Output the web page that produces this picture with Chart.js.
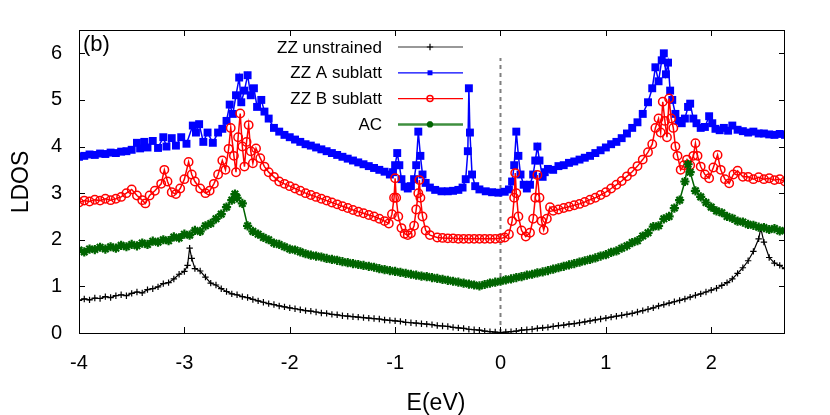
<!DOCTYPE html>
<html>
<head>
<meta charset="utf-8">
<script src="https://cdn.jsdelivr.net/npm/chart.js@4.4.0/dist/chart.umd.min.js"></script>
<style>
  html, body { margin: 0; padding: 0; background: #fff; }
  #ldos { display: block; }
</style>
</head>
<body>
<canvas id="ldos" width="830" height="415"></canvas>
<script>
// LDOS curves (energy in eV, LDOS in arbitrary units)
const blackE = [
  -4.00, -3.95, -3.90, -3.85, -3.80, -3.75, -3.70, -3.65, -3.60, -3.55,
  -3.50, -3.45, -3.40, -3.35, -3.30, -3.25, -3.20, -3.15, -3.10, -3.05,
  -3.00, -2.97, -2.95, -2.93, -2.90, -2.85, -2.80, -2.75, -2.70, -2.65,
  -2.60, -2.55, -2.50, -2.45, -2.40, -2.35, -2.30, -2.25, -2.20, -2.15,
  -2.10, -2.05, -2.00, -1.95, -1.90, -1.85, -1.80, -1.75, -1.70, -1.65,
  -1.60, -1.55, -1.50, -1.45, -1.40, -1.35, -1.30, -1.25, -1.20, -1.15,
  -1.10, -1.05, -1.00, -0.95, -0.90, -0.85, -0.80, -0.75, -0.70, -0.65,
  -0.60, -0.55, -0.50, -0.45, -0.40, -0.35, -0.30, -0.25, -0.20, -0.15,
  -0.10, -0.05, 0.00, 0.05, 0.10, 0.15, 0.20, 0.25, 0.30, 0.35,
  0.40, 0.45, 0.50, 0.55, 0.60, 0.65, 0.70, 0.75, 0.80, 0.85,
  0.90, 0.95, 1.00, 1.05, 1.10, 1.15, 1.20, 1.25, 1.30, 1.35,
  1.40, 1.45, 1.50, 1.55, 1.60, 1.65, 1.70, 1.75, 1.80, 1.85,
  1.90, 1.95, 2.00, 2.05, 2.10, 2.15, 2.20, 2.25, 2.30, 2.35,
  2.40, 2.45, 2.47, 2.50, 2.55, 2.60, 2.65, 2.70
];
const blackLdos = [
  0.70, 0.73, 0.71, 0.75, 0.74, 0.78, 0.76, 0.80, 0.82, 0.80,
  0.85, 0.88, 0.86, 0.93, 0.95, 0.99, 1.06, 1.08, 1.16, 1.26,
  1.32, 1.45, 1.82, 1.60, 1.38, 1.33, 1.20, 1.07, 1.03, 0.95,
  0.89, 0.84, 0.82, 0.78, 0.76, 0.72, 0.69, 0.66, 0.63, 0.61,
  0.58, 0.56, 0.54, 0.52, 0.50, 0.48, 0.47, 0.45, 0.43, 0.42,
  0.40, 0.39, 0.37, 0.36, 0.35, 0.34, 0.33, 0.32, 0.31, 0.30,
  0.28, 0.27, 0.26, 0.25, 0.23, 0.22, 0.21, 0.20, 0.19, 0.18,
  0.16, 0.15, 0.14, 0.12, 0.11, 0.10, 0.08, 0.07, 0.06, 0.04,
  0.03, 0.02, 0.01, 0.02, 0.03, 0.04, 0.06, 0.07, 0.08, 0.10,
  0.11, 0.12, 0.14, 0.16, 0.17, 0.19, 0.20, 0.22, 0.24, 0.26,
  0.28, 0.30, 0.32, 0.34, 0.36, 0.38, 0.40, 0.42, 0.45, 0.48,
  0.51, 0.54, 0.58, 0.61, 0.64, 0.67, 0.70, 0.73, 0.77, 0.81,
  0.84, 0.88, 0.92, 0.96, 1.02, 1.08, 1.16, 1.28, 1.40, 1.55,
  1.75, 2.02, 2.25, 1.95, 1.62, 1.50, 1.45, 1.38
];

const blueE = [
  -4.00, -3.95, -3.90, -3.85, -3.80, -3.75, -3.70, -3.65, -3.60, -3.55,
  -3.50, -3.45, -3.42, -3.38, -3.35, -3.30, -3.25, -3.20, -3.17, -3.12,
  -3.08, -3.03, -2.98, -2.92, -2.89, -2.86, -2.82, -2.78, -2.73, -2.68,
  -2.64, -2.60, -2.57, -2.54, -2.51, -2.48, -2.46, -2.43, -2.40, -2.37,
  -2.34, -2.31, -2.27, -2.24, -2.20, -2.15, -2.10, -2.05, -2.00, -1.95,
  -1.90, -1.85, -1.80, -1.75, -1.70, -1.65, -1.60, -1.55, -1.50, -1.45,
  -1.40, -1.35, -1.30, -1.25, -1.20, -1.15, -1.10, -1.05, -1.02, -1.00,
  -0.98, -0.96, -0.94, -0.91, -0.88, -0.85, -0.82, -0.80, -0.78, -0.76,
  -0.74, -0.71, -0.67, -0.62, -0.56, -0.50, -0.45, -0.40, -0.36, -0.33,
  -0.31, -0.30, -0.29, -0.27, -0.24, -0.20, -0.14, -0.08, -0.02, 0.04,
  0.08, 0.11, 0.13, 0.15, 0.17, 0.19, 0.22, 0.25, 0.28, 0.31,
  0.33, 0.35, 0.37, 0.40, 0.42, 0.45, 0.50, 0.55, 0.60, 0.65,
  0.70, 0.75, 0.80, 0.85, 0.90, 0.95, 1.00, 1.05, 1.10, 1.15,
  1.20, 1.25, 1.30, 1.35, 1.40, 1.44, 1.47, 1.50, 1.53, 1.55,
  1.57, 1.59, 1.61, 1.63, 1.66, 1.69, 1.72, 1.75, 1.78, 1.80,
  1.83, 1.86, 1.90, 1.94, 1.98, 2.01, 2.04, 2.08, 2.12, 2.16,
  2.20, 2.25, 2.30, 2.35, 2.40, 2.45, 2.50, 2.55, 2.60, 2.65,
  2.70
];
const blueLdos = [
  3.78, 3.80, 3.83, 3.82, 3.85, 3.84, 3.87, 3.86, 3.89, 3.90,
  3.93, 4.08, 3.96, 4.10, 3.98, 4.12, 3.97, 4.20, 4.00, 4.18,
  4.02, 4.20, 4.06, 4.45, 4.30, 4.48, 4.10, 4.30, 4.08, 4.30,
  4.38, 4.55, 4.90, 4.70, 5.10, 5.48, 4.95, 5.20, 5.53, 5.10,
  5.25, 4.85, 5.00, 4.75, 4.60, 4.40, 4.32, 4.25, 4.20, 4.15,
  4.10, 4.05, 4.02, 3.98, 3.94, 3.90, 3.86, 3.82, 3.78, 3.74,
  3.70, 3.66, 3.62, 3.58, 3.54, 3.50, 3.46, 3.40, 3.45, 3.60,
  3.86, 3.60, 3.30, 3.14, 3.10, 3.15, 3.30, 3.60, 4.32, 3.80,
  3.40, 3.22, 3.12, 3.07, 3.04, 3.04, 3.05, 3.07, 3.12, 3.30,
  3.90, 5.25, 4.30, 3.40, 3.15, 3.08, 3.04, 3.02, 3.01, 3.03,
  3.08, 3.25, 3.60, 4.32, 3.80, 3.40, 3.18, 3.10, 3.18, 3.40,
  3.70, 4.00, 3.70, 3.35, 3.45, 3.52, 3.50, 3.58, 3.60, 3.65,
  3.68, 3.72, 3.76, 3.80, 3.86, 3.92, 3.98, 4.05, 4.10, 4.18,
  4.28, 4.40, 4.52, 4.70, 4.95, 5.25, 5.70, 5.40, 5.85, 6.00,
  5.55, 5.80, 5.20, 5.00, 4.70, 4.55, 4.50, 4.60, 4.85, 4.92,
  4.60, 4.50, 4.40, 4.42, 4.65, 4.50, 4.38, 4.35, 4.40, 4.34,
  4.45, 4.36, 4.33, 4.30, 4.32, 4.28, 4.28, 4.26, 4.25, 4.27,
  4.25
];

const redE = [
  -4.00, -3.95, -3.90, -3.85, -3.80, -3.75, -3.70, -3.65, -3.60, -3.55,
  -3.50, -3.45, -3.40, -3.37, -3.33, -3.28, -3.22, -3.19, -3.16, -3.12,
  -3.08, -3.04, -3.00, -2.96, -2.93, -2.90, -2.85, -2.80, -2.76, -2.72,
  -2.68, -2.64, -2.61, -2.58, -2.56, -2.53, -2.51, -2.49, -2.47, -2.45,
  -2.43, -2.41, -2.39, -2.37, -2.35, -2.32, -2.28, -2.24, -2.20, -2.15,
  -2.10, -2.05, -2.00, -1.95, -1.90, -1.85, -1.80, -1.75, -1.70, -1.65,
  -1.60, -1.55, -1.50, -1.45, -1.40, -1.35, -1.30, -1.25, -1.20, -1.15,
  -1.10, -1.06, -1.03, -1.01, -1.00, -0.99, -0.97, -0.94, -0.91, -0.88,
  -0.85, -0.82, -0.80, -0.78, -0.77, -0.76, -0.74, -0.71, -0.67, -0.60,
  -0.55, -0.50, -0.45, -0.40, -0.35, -0.30, -0.25, -0.20, -0.15, -0.10,
  -0.05, 0.00, 0.04, 0.08, 0.11, 0.13, 0.14, 0.15, 0.17, 0.20,
  0.24, 0.28, 0.31, 0.33, 0.35, 0.37, 0.39, 0.41, 0.44, 0.47,
  0.50, 0.55, 0.60, 0.65, 0.70, 0.75, 0.80, 0.85, 0.90, 0.95,
  1.00, 1.05, 1.10, 1.15, 1.20, 1.25, 1.30, 1.35, 1.40, 1.44,
  1.47, 1.50, 1.52, 1.54, 1.56, 1.58, 1.60, 1.62, 1.64, 1.66,
  1.68, 1.71, 1.74, 1.77, 1.80, 1.83, 1.85, 1.87, 1.90, 1.94,
  1.98, 2.02, 2.06, 2.09, 2.13, 2.17, 2.21, 2.25, 2.30, 2.35,
  2.40, 2.45, 2.50, 2.55, 2.60, 2.65, 2.70
];
const redLdos = [
  2.80, 2.84, 2.82, 2.86, 2.84, 2.88, 2.85, 2.88, 2.92, 3.00,
  3.08, 2.95, 2.85, 2.78, 2.95, 3.05, 3.20, 3.50, 3.25, 3.02,
  2.98, 3.10, 3.30, 3.67, 3.40, 3.25, 3.10, 3.00, 3.05, 3.20,
  3.40, 3.70, 3.50, 3.95, 4.40, 3.80, 3.45, 4.20, 4.71, 4.00,
  3.57, 4.10, 4.46, 3.90, 3.64, 3.96, 3.75, 3.57, 3.45, 3.35,
  3.25, 3.20, 3.15, 3.10, 3.05, 3.00, 2.96, 2.92, 2.88, 2.84,
  2.80, 2.76, 2.72, 2.68, 2.64, 2.60, 2.57, 2.53, 2.50, 2.45,
  2.40, 2.35, 2.55, 2.90, 3.32, 2.90, 2.50, 2.25, 2.13, 2.10,
  2.14, 2.30, 2.65, 3.00, 3.28, 2.90, 2.50, 2.20, 2.10, 2.05,
  2.04, 2.03, 2.03, 2.02, 2.02, 2.02, 2.02, 2.02, 2.02, 2.02,
  2.02, 2.03, 2.05, 2.12, 2.40, 2.90, 3.43, 3.00, 2.50, 2.20,
  2.07, 2.15, 2.45, 2.90, 3.39, 2.90, 2.40, 2.21, 2.45, 2.70,
  2.62, 2.65, 2.68, 2.71, 2.74, 2.77, 2.81, 2.86, 2.90, 2.96,
  3.02, 3.10, 3.18, 3.26, 3.36, 3.46, 3.58, 3.72, 3.88, 4.05,
  4.40, 4.60, 4.30, 4.96, 4.55, 4.20, 5.03, 4.60, 4.40, 4.00,
  3.80, 3.50, 3.60, 3.72, 3.60, 3.80, 4.07, 3.80, 3.57, 3.40,
  3.32, 3.55, 3.82, 3.50, 3.30, 3.21, 3.40, 3.48, 3.35, 3.35,
  3.30, 3.34, 3.30, 3.32, 3.28, 3.30, 3.25
];

const greenE = [
  -4.00, -3.95, -3.90, -3.85, -3.80, -3.75, -3.70, -3.65, -3.60, -3.55,
  -3.50, -3.45, -3.40, -3.35, -3.30, -3.25, -3.20, -3.15, -3.10, -3.05,
  -3.00, -2.95, -2.90, -2.85, -2.80, -2.75, -2.70, -2.65, -2.60, -2.55,
  -2.52, -2.50, -2.45, -2.40, -2.35, -2.30, -2.25, -2.20, -2.15, -2.10,
  -2.05, -2.00, -1.95, -1.90, -1.85, -1.80, -1.75, -1.70, -1.65, -1.60,
  -1.55, -1.50, -1.45, -1.40, -1.35, -1.30, -1.25, -1.20, -1.15, -1.10,
  -1.05, -1.00, -0.95, -0.90, -0.85, -0.80, -0.75, -0.70, -0.65, -0.60,
  -0.55, -0.50, -0.45, -0.40, -0.35, -0.30, -0.25, -0.20, -0.15, -0.10,
  -0.05, 0.00, 0.05, 0.10, 0.15, 0.20, 0.25, 0.30, 0.35, 0.40,
  0.45, 0.50, 0.55, 0.60, 0.65, 0.70, 0.75, 0.80, 0.85, 0.90,
  0.95, 1.00, 1.05, 1.10, 1.15, 1.20, 1.25, 1.30, 1.35, 1.40,
  1.45, 1.50, 1.55, 1.60, 1.65, 1.70, 1.75, 1.78, 1.80, 1.85,
  1.90, 1.95, 2.00, 2.05, 2.10, 2.15, 2.20, 2.25, 2.30, 2.35,
  2.40, 2.45, 2.50, 2.55, 2.60, 2.65, 2.70
];
const greenLdos = [
  1.78, 1.74, 1.80, 1.79, 1.84, 1.80, 1.85, 1.82, 1.88, 1.85,
  1.90, 1.87, 1.93, 1.90, 1.97, 1.95, 2.00, 1.98, 2.06, 2.04,
  2.12, 2.10, 2.20, 2.18, 2.30, 2.35, 2.45, 2.55, 2.70, 2.85,
  2.98, 2.90, 2.78, 2.30, 2.18, 2.12, 2.05, 2.00, 1.93, 1.90,
  1.85, 1.80, 1.78, 1.74, 1.70, 1.67, 1.65, 1.63, 1.60, 1.58,
  1.56, 1.53, 1.51, 1.49, 1.47, 1.45, 1.43, 1.41, 1.38, 1.36,
  1.34, 1.32, 1.30, 1.28, 1.26, 1.24, 1.22, 1.21, 1.19, 1.17,
  1.15, 1.13, 1.11, 1.09, 1.07, 1.05, 1.03, 1.01, 1.04, 1.07,
  1.09, 1.11, 1.14, 1.16, 1.19, 1.21, 1.24, 1.26, 1.29, 1.31,
  1.34, 1.37, 1.40, 1.43, 1.46, 1.49, 1.52, 1.55, 1.58, 1.61,
  1.65, 1.68, 1.73, 1.76, 1.82, 1.87, 1.94, 1.98, 2.08, 2.15,
  2.28, 2.30, 2.45, 2.50, 2.68, 2.85, 3.25, 3.62, 3.45, 3.05,
  2.92, 2.80, 2.70, 2.62, 2.58, 2.50, 2.46, 2.40, 2.38, 2.33,
  2.31, 2.27, 2.26, 2.22, 2.24, 2.19, 2.20
];

// dashed marker at E = 0
const fermiE = [0, 0];
const fermiLdos = [0, 5.9];

const seriesLabels = ['ZZ unstrained', 'ZZ A sublatt', 'ZZ B sublatt', 'AC'];
const FONT = "'Liberation Sans', Arial, sans-serif";

function toPoints(es, ls) {
  return es.map((e, i) => ({ x: e, y: ls[i] }));
}

// frame, inward ticks on all 4 sides, gnuplot-like key and labels
const gnuplotLook = {
  id: 'gnuplotLook',
  afterDatasetsDraw(chart) {
    const { ctx, chartArea: a, scales } = chart;
    ctx.save();
    ctx.strokeStyle = '#000';
    ctx.lineWidth = 1;
    ctx.strokeRect(a.left + 0.5, a.top + 0.5, a.right - a.left - 1, a.bottom - a.top);

    const tl = 6;
    ctx.beginPath();
    scales.x.ticks.forEach(t => {
      const px = Math.round(scales.x.getPixelForValue(t.value)) + 0.5;
      ctx.moveTo(px, a.bottom); ctx.lineTo(px, a.bottom - tl);
      ctx.moveTo(px, a.top); ctx.lineTo(px, a.top + tl);
    });
    scales.y.ticks.forEach(t => {
      const py = Math.round(scales.y.getPixelForValue(t.value)) + 0.5;
      ctx.moveTo(a.left, py); ctx.lineTo(a.left + tl, py);
      ctx.moveTo(a.right, py); ctx.lineTo(a.right - tl, py);
    });
    ctx.stroke();

    // key
    ctx.font = '17px ' + FONT;
    ctx.textAlign = 'right';
    ctx.textBaseline = 'middle';
    chart.data.datasets.forEach((ds, i) => {
      if (!ds.label) return;
      const y = 47 + i * 25.8;
      ctx.fillStyle = '#000';
      ctx.fillText(ds.label, 382, y + 1);
      ctx.strokeStyle = ds.legendColor || ds.borderColor;
      ctx.lineWidth = ds.legendWidth || 1.2;
      ctx.beginPath();
      ctx.moveTo(398, y); ctx.lineTo(463, y);
      ctx.stroke();
      ctx.lineWidth = ds.pointBorderWidth;
      ctx.fillStyle = ds.pointBackgroundColor;
      ctx.strokeStyle = ds.borderColor;
      Chart.helpers.drawPoint(ctx, {
        pointStyle: ds.pointStyle, radius: ds.legendRadius || ds.pointRadius,
        borderWidth: ds.pointBorderWidth, rotation: 0
      }, 430, y);
    });

    ctx.fillStyle = '#000';
    ctx.textAlign = 'left';
    ctx.textBaseline = 'alphabetic';
    ctx.font = '22px ' + FONT;
    ctx.fillText('(b)', 83, 51);

    ctx.font = '23px ' + FONT;
    ctx.textAlign = 'center';
    ctx.fillText('E(eV)', 436, 410);

    ctx.translate(28, 182);
    ctx.rotate(-Math.PI / 2);
    ctx.fillText('LDOS', 0, 0);
    ctx.restore();
  }
};

new Chart(document.getElementById('ldos'), {
  type: 'line',
  data: {
    datasets: [
      {
        label: seriesLabels[0],
        data: toPoints(blackE, blackLdos),
        borderColor: '#000000',
        legendColor: '#333333',
        borderWidth: 1.2,
        pointStyle: 'cross',
        pointRadius: 3.2,
        pointBorderWidth: 1.2,
        pointBackgroundColor: '#000000',
        order: 3
      },
      {
        label: seriesLabels[1],
        data: toPoints(blueE, blueLdos),
        borderColor: '#0000ff',
        borderWidth: 1.5,
        pointStyle: 'rect',
        pointRadius: 5.6,
        legendRadius: 3.5,
        pointBorderWidth: 0,
        pointBackgroundColor: '#0000ff',
        order: 2
      },
      {
        label: seriesLabels[2],
        data: toPoints(redE, redLdos),
        borderColor: '#ff0000',
        borderWidth: 1.5,
        pointStyle: 'circle',
        pointRadius: 4.2,
        legendRadius: 3,
        pointBorderWidth: 1.5,
        pointBackgroundColor: 'rgba(0,0,0,0)',
        order: 1
      },
      {
        label: seriesLabels[3],
        data: toPoints(greenE, greenLdos),
        borderColor: '#006400',
        legendColor: '#3f8f3f',
        borderWidth: 1.5,
        legendWidth: 2.5,
        pointStyle: 'star',
        pointRadius: 4.6,
        legendRadius: 3.2,
        pointBorderWidth: 2.2,
        pointBackgroundColor: '#006400',
        order: 0
      },
      {
        data: toPoints(fermiE, fermiLdos),
        borderColor: '#7f7f7f',
        borderWidth: 2,
        borderDash: [4, 4],
        pointRadius: 0,
        order: 4
      }
    ]
  },
  options: {
    responsive: false,
    animation: false,
    devicePixelRatio: 1,
    layout: { padding: { top: 30, right: 45, left: 0, bottom: 0 } },
    elements: { line: { tension: 0 } },
    plugins: { legend: { display: false }, tooltip: { enabled: false } },
    scales: {
      x: {
        type: 'linear',
        min: -4,
        max: 2.7,
        border: { display: false },
        grid: { display: false, drawTicks: false },
        ticks: {
          stepSize: 1, includeBounds: false, padding: 18, maxRotation: 0,
          color: '#000', font: { family: FONT, size: 20 }
        },
        afterFit: s => { s.height = 82; }
      },
      y: {
        min: 0,
        max: 6.5,
        border: { display: false },
        grid: { display: false, drawTicks: false },
        ticks: {
          stepSize: 1, includeBounds: false, padding: 17,
          color: '#000', font: { family: FONT, size: 20 }
        },
        afterFit: s => { s.width = 79; }
      }
    }
  },
  plugins: [gnuplotLook]
});
</script>
</body>
</html>
